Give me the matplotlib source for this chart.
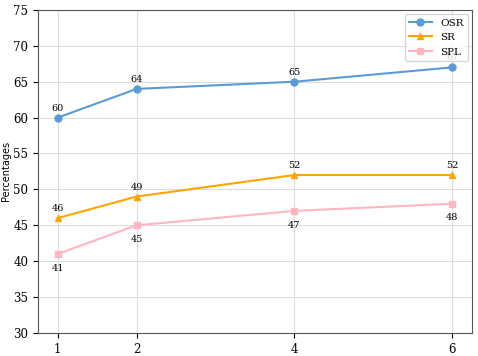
import matplotlib
matplotlib.use('Agg')
import matplotlib.pyplot as plt

x = [1, 2, 4, 6]
osr = [60, 64, 65, 67]
sr = [46, 49, 52, 52]
spl = [41, 45, 47, 48]

fig = plt.figure(figsize=(4.78, 3.56), dpi=100)
ax = fig.add_axes([0.0795, 0.065, 0.908, 0.907])

ax.plot(x, osr, marker='o', color='#5b9bd5', label='OSR', markersize=5, linewidth=1.5)
ax.plot(x, sr, marker='^', color='#ffa500', label='SR', markersize=5, linewidth=1.5)
ax.plot(x, spl, marker='s', color='#ffb6c1', label='SPL', markersize=5, linewidth=1.5)

for xi, v in zip(x, osr):
    ax.annotate(str(v), (xi, v), textcoords='offset points', xytext=(0, 5),
                ha='center', fontsize=7, family='DejaVu Serif')
for xi, v in zip(x, sr):
    ax.annotate(str(v), (xi, v), textcoords='offset points', xytext=(0, 5),
                ha='center', fontsize=7, family='DejaVu Serif')
for xi, v in zip(x, spl):
    ax.annotate(str(v), (xi, v), textcoords='offset points', xytext=(0, -12),
                ha='center', fontsize=7, family='DejaVu Serif')

ax.set_ylim(30, 75)
ax.set_xticks(x)
ax.set_ylabel('Percentages', fontsize=7, labelpad=2)
ax.grid(True, color='#dddddd', linewidth=0.8)
for s in ax.spines.values():
    s.set_color('#555555')
for lab in ax.get_xticklabels() + ax.get_yticklabels():
    lab.set_family('DejaVu Serif')
    lab.set_fontsize(8.5)
leg = ax.legend(loc='upper right', prop={'family': 'DejaVu Serif', 'size': 7.5},
                handlelength=2.2, borderaxespad=0.4)
leg.set_zorder(5)

fig.savefig('out.png', dpi=100)
